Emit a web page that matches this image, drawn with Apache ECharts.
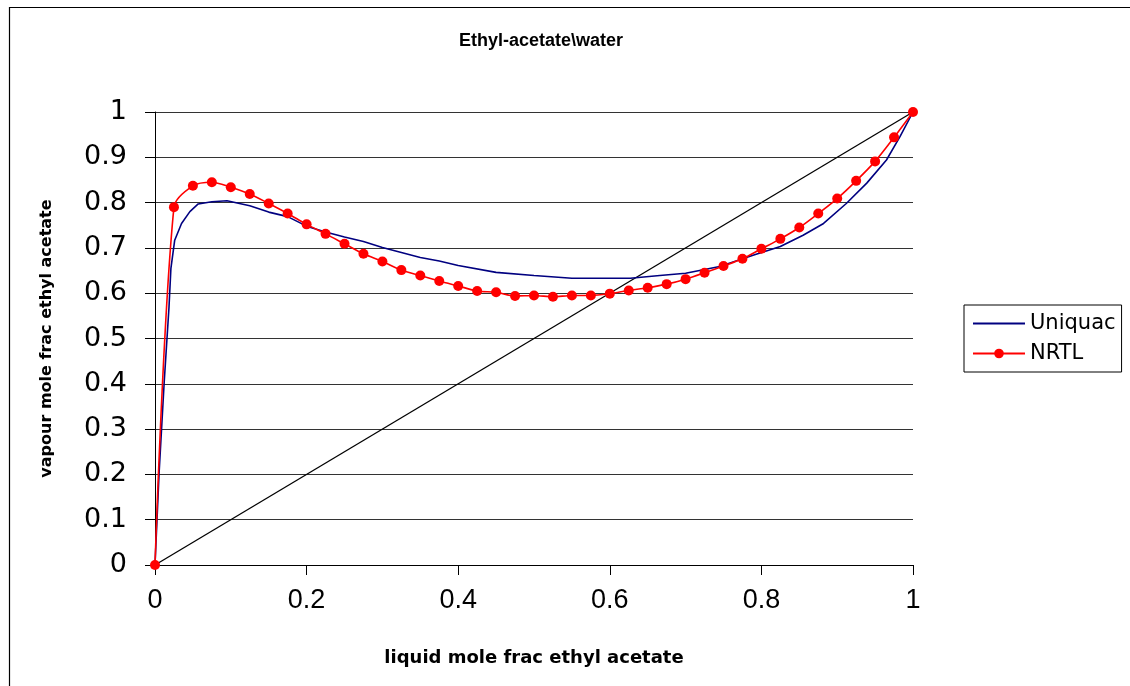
<!DOCTYPE html>
<html>
<head>
<meta charset="utf-8">
<script src="https://cdn.jsdelivr.net/npm/echarts@6/dist/echarts.min.js"></script>
<style>
html,body{margin:0;padding:0;background:#fff;}
#chart{width:1130px;height:686px;}
</style>
</head>
<body>
<div id="chart"></div>
<script>
const titleText = 'Ethyl-acetate\\water';
const xAxisName = 'liquid mole frac ethyl acetate';
const yAxisName = 'vapour mole frac ethyl acetate';
const seriesNames = ['Uniquac', 'NRTL'];

const uniquacX = [0, 0.0053, 0.012, 0.0185, 0.021, 0.026, 0.035, 0.046, 0.057, 0.075, 0.095, 0.125, 0.15, 0.175, 0.2, 0.225, 0.25, 0.275, 0.3, 0.325, 0.35, 0.375, 0.4, 0.45, 0.5, 0.55, 0.6, 0.627, 0.666, 0.7, 0.745, 0.789, 0.825, 0.855, 0.882, 0.912, 0.939, 0.965, 0.983, 1];
const uniquacY = [0, 0.20, 0.40, 0.57, 0.655, 0.717, 0.754, 0.780, 0.797, 0.802, 0.804, 0.793, 0.779, 0.769, 0.748, 0.735, 0.724, 0.714, 0.701, 0.690, 0.679, 0.671, 0.661, 0.646, 0.639, 0.633, 0.633, 0.633, 0.639, 0.644, 0.659, 0.684, 0.703, 0.728, 0.754, 0.798, 0.843, 0.894, 0.946, 1];

const nrtlX = [0, 0.025, 0.05, 0.075, 0.1, 0.125, 0.15, 0.175, 0.2, 0.225, 0.25, 0.275, 0.3, 0.325, 0.35, 0.375, 0.4, 0.425, 0.45, 0.475, 0.5, 0.525, 0.55, 0.575, 0.6, 0.625, 0.65, 0.675, 0.7, 0.725, 0.75, 0.775, 0.8, 0.825, 0.85, 0.875, 0.9, 0.925, 0.95, 0.975, 1];
const nrtlY = [0, 0.79, 0.837, 0.845, 0.834, 0.819, 0.798, 0.776, 0.752, 0.731, 0.709, 0.687, 0.670, 0.651, 0.639, 0.627, 0.616, 0.605, 0.602, 0.594, 0.595, 0.592, 0.595, 0.595, 0.599, 0.606, 0.612, 0.620, 0.631, 0.645, 0.660, 0.676, 0.698, 0.720, 0.745, 0.776, 0.809, 0.848, 0.891, 0.944, 1.0];

const diagX = [0, 1];
const diagY = [0, 1];

const xTicks = [0, 0.2, 0.4, 0.6, 0.8, 1];
const yTicks = [0, 0.1, 0.2, 0.3, 0.4, 0.5, 0.6, 0.7, 0.8, 0.9, 1];

function pairs(xs, ys) { return xs.map((x, i) => [x, ys[i]]); }

const chart = echarts.init(document.getElementById('chart'), null, {renderer: 'canvas'});
chart.setOption({
  animation: false,
  backgroundColor: '#fff',
  graphic: [{
    type: 'rect', left: 7, top: 5, shape: {x: 0, y: 0, width: 1140, height: 700},
    style: {fill: 'none', stroke: '#000', lineWidth: 1.2}, silent: true
  }],
  title: {
    text: titleText, left: 536, top: 27, textAlign: 'center',
    textStyle: {fontFamily: 'Liberation Sans', fontWeight: 'bold', fontSize: 18, color: '#000'}
  },
  legend: {
    data: [{name: seriesNames[0], itemStyle: {opacity: 0}}, seriesNames[1]],
    orient: 'vertical', left: 964, top: 305,
    borderColor: '#000', borderWidth: 1, padding: [8, 6, 8, 8],
    itemWidth: 52, itemHeight: 12, itemGap: 9,
    textStyle: {fontFamily: 'DejaVu Sans', fontSize: 21, color: '#000'}
  },
  grid: {left: 155, right: 217, top: 112, bottom: 121},
  xAxis: {
    type: 'value', min: 0, max: 1, interval: 0.2,
    name: xAxisName, nameLocation: 'middle', nameGap: 84,
    nameTextStyle: {fontFamily: 'DejaVu Sans', fontWeight: 'bold', fontSize: 18, color: '#000'},
    axisLine: {show: true, onZero: false, lineStyle: {color: '#000', width: 1}},
    axisTick: {show: true, length: 10, lineStyle: {color: '#000'}},
    axisLabel: {margin: 22, fontFamily: 'Liberation Sans', fontSize: 27, color: '#000',
      formatter: v => xTicks.includes(+v.toFixed(1)) ? String(+v.toFixed(1)) : ''},
    splitLine: {show: false}
  },
  yAxis: {
    type: 'value', min: 0, max: 1, interval: 0.1,
    name: yAxisName, nameLocation: 'middle', nameGap: 100, nameRotate: 90,
    nameTextStyle: {fontFamily: 'DejaVu Sans', fontWeight: 'bold', fontSize: 16, color: '#000'},
    axisLine: {show: true, onZero: false, lineStyle: {color: '#000', width: 1}},
    axisTick: {show: true, length: 10, lineStyle: {color: '#000'}},
    axisLabel: {margin: 28, fontFamily: 'DejaVu Sans', fontSize: 27, color: '#000',
      formatter: v => { const r = +v.toFixed(1); return yTicks.includes(r) ? String(r) : ''; }},
    splitLine: {show: true, lineStyle: {color: '#333', width: 1}}
  },
  series: [
    {
      name: 'diag', type: 'line', data: pairs(diagX, diagY), symbol: 'none',
      lineStyle: {color: '#000', width: 1.3}, z: 1, silent: true
    },
    {
      name: seriesNames[0], type: 'line', data: pairs(uniquacX, uniquacY), symbol: 'none',
      itemStyle: {color: '#000080'}, lineStyle: {color: '#000080', width: 1.6}, z: 2
    },
    {
      name: seriesNames[1], type: 'line', data: pairs(nrtlX, nrtlY), symbol: 'circle', symbolSize: 10,
      smooth: 0.3, itemStyle: {color: '#ff0000'}, lineStyle: {color: '#ff0000', width: 1.6}, z: 3
    }
  ]
});
</script>
</body>
</html>
